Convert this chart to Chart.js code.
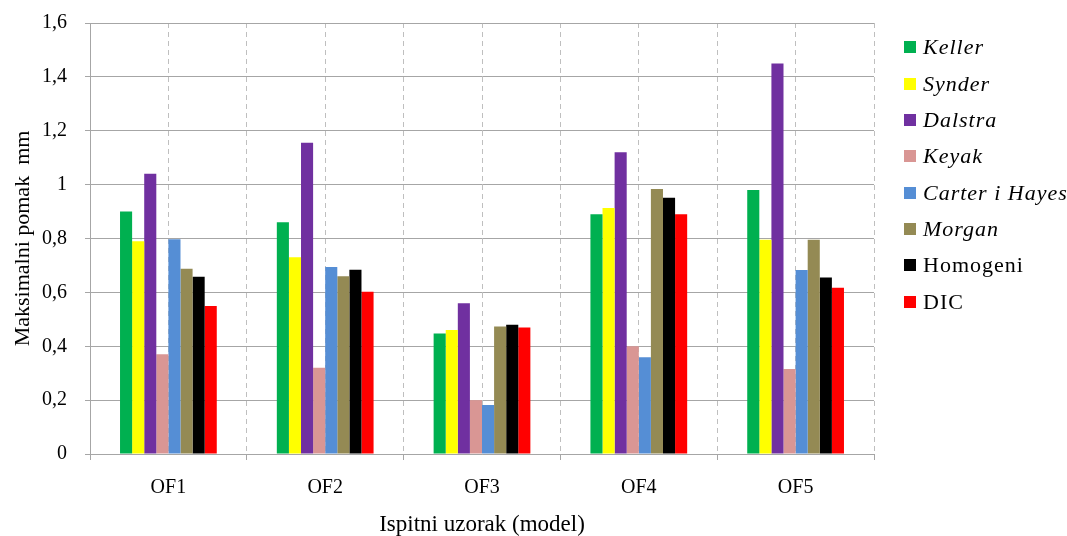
<!DOCTYPE html>
<html>
<head>
<meta charset="utf-8">
<script src="https://cdn.jsdelivr.net/npm/chart.js@4"></script>
<style>
  html, body { margin: 0; padding: 0; background: #ffffff; }
  #wrap { position: relative; width: 1067px; height: 536px; overflow: hidden; }
  #c { position: absolute; left: 0; top: 0; }
  .lg { position: absolute; left: 904px; height: 24px; white-space: nowrap;
        font-family: "Liberation Serif", "Times New Roman", serif; font-size: 22px; letter-spacing: 1px; color: #000; }
  .lg .sw { position: absolute; left: 0; top: 6px; width: 12px; height: 12px; }
  .lg .tx { position: absolute; left: 19px; top: 0; line-height: 24px; }
</style>
</head>
<body>
<div id="wrap">
  <canvas id="c" width="1067" height="536"></canvas>
  <div id="legend"></div>
</div>
<script>
const categories = ["OF1", "OF2", "OF3", "OF4", "OF5"];

const kellerValues    = [0.90, 0.86, 0.447, 0.89, 0.98];
const synderValues    = [0.79, 0.73, 0.46, 0.913, 0.795];
const dalstraValues   = [1.04, 1.155, 0.56, 1.12, 1.45];
const keyakValues     = [0.37, 0.32, 0.20, 0.40, 0.316];
const carterValues    = [0.797, 0.694, 0.182, 0.359, 0.683];
const morganValues    = [0.688, 0.66, 0.473, 0.984, 0.795];
const homogeniValues  = [0.658, 0.684, 0.48, 0.951, 0.655];
const dicValues       = [0.549, 0.602, 0.47, 0.89, 0.617];

const seriesNames   = ["Keller", "Synder", "Dalstra", "Keyak", "Carter i Hayes", "Morgan", "Homogeni", "DIC"];
const seriesItalic  = [true, true, true, true, true, true, false, false];
const seriesColors  = ["#00B050", "#FFFF00", "#7030A0", "#D99694", "#558ED5", "#948A54", "#000000", "#FF0000"];
const seriesValues  = [kellerValues, synderValues, dalstraValues, keyakValues, carterValues, morganValues, homogeniValues, dicValues];

const yTickValues = [0, 0.2, 0.4, 0.6, 0.8, 1, 1.2, 1.4, 1.6];
const yTickLabels = ["0", "0,2", "0,4", "0,6", "0,8", "1", "1,2", "1,4", "1,6"];

const yTitle = "Maksimalni pomak  mm";
const xTitle = "Ispitni uzorak (model)";

const FONT = '"Liberation Serif", "Times New Roman", serif';
const GRID = "#A6A6A6";
const DASH = "#BFBFBF";

// HTML legend (mixed italic / upright labels)
const legendEl = document.getElementById("legend");
const legendTop = [35, 71.5, 108, 144, 180.5, 217, 253, 290];
seriesNames.forEach((name, i) => {
  const row = document.createElement("div");
  row.className = "lg";
  row.style.top = legendTop[i] + "px";
  const sw = document.createElement("div");
  sw.className = "sw";
  sw.style.background = seriesColors[i];
  const tx = document.createElement("div");
  tx.className = "tx";
  tx.textContent = name;
  tx.style.fontStyle = seriesItalic[i] ? "italic" : "normal";
  row.appendChild(sw);
  row.appendChild(tx);
  legendEl.appendChild(row);
});

const datasets = seriesNames.map((name, i) => ({
  label: name,
  data: seriesValues[i],
  backgroundColor: seriesColors[i],
  borderWidth: 0,
  categoryPercentage: 0.617,
  barPercentage: 1.0,
  xAxisID: "x"
}));

new Chart(document.getElementById("c"), {
  type: "bar",
  data: { labels: categories, datasets: datasets },
  options: {
    responsive: false,
    animation: false,
    devicePixelRatio: 1,
    layout: { padding: { left: 0, right: 193, top: 23, bottom: 0 } },
    plugins: { legend: { display: false }, tooltip: { enabled: false } },
    scales: {
      x: {
        type: "category",
        position: "bottom",
        offset: true,
        grid: {
          offset: true,
          color: DASH,
          lineWidth: 1,
          drawTicks: true,
          tickLength: 6,
          tickColor: GRID,
          tickBorderDash: []
        },
        border: { display: true, color: GRID, width: 1, dash: [5, 4] },
        ticks: { color: "#000", font: { family: FONT, size: 20 }, padding: 16, maxRotation: 0 },
        title: { display: true, text: xTitle, color: "#000", font: { family: FONT, size: 23, lineHeight: 1.0 }, padding: { top: 2, bottom: 0 } },
        afterFit: (s) => { s.height = 82; s.paddingLeft = 0; s.paddingRight = 0; }
      },
      x2: {
        type: "category",
        labels: categories,
        position: "bottom",
        offset: true,
        grid: { offset: false, color: DASH, lineWidth: 1, drawTicks: false },
        border: { display: false, dash: [5, 4] },
        ticks: { display: false },
        afterFit: (s) => { s.height = 0; s.paddingLeft = 0; s.paddingRight = 0; }
      },
      y: {
        min: 0,
        max: 1.6,
        afterBuildTicks: (s) => { s.ticks = yTickValues.map(v => ({ value: v })); },
        grid: { color: GRID, lineWidth: 1, drawTicks: true, tickLength: 5, tickColor: GRID },
        border: { display: true, color: GRID, width: 1 },
        ticks: {
          color: "#000",
          font: { family: FONT, size: 20 },
          padding: 18,
          callback: (v) => { const i = yTickValues.findIndex(t => Math.abs(t - v) < 1e-9); return i >= 0 ? yTickLabels[i] : ""; }
        },
        title: { display: true, text: yTitle, color: "#000", font: { family: FONT, size: 22 }, padding: { top: 10, bottom: 0 } },
        afterFit: (s) => { s.width = 90; s.paddingTop = 0; s.paddingBottom = 0; }
      }
    }
  }
});
</script>
</body>
</html>
